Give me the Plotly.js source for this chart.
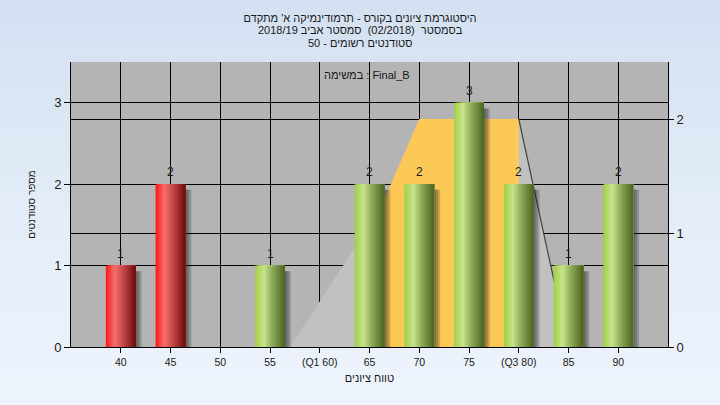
<!DOCTYPE html>
<html><head><meta charset="utf-8">
<script src="https://cdn.plot.ly/plotly-3.0.1.min.js"></script>
<style>
html,body{margin:0;padding:0;width:720px;height:405px;overflow:hidden;
background:linear-gradient(to bottom,#d3e0f1 0%,#e3ecf8 50%,#eef4fc 100%);}
#chart{width:720px;height:405px;}
</style>
</head><body><div id="chart"></div>
<script>
// ---- data ----
const scores = [40, 45, 50, 55, 60, 65, 70, 75, 80, 85, 90];
const tickLabels = ['40', '45', '50', '55', '(Q1 60)', '65', '70', '75', '(Q3 80)', '85', '90'];
const counts = [1, 2, 0, 1, 0, 2, 2, 3, 2, 1, 2];
const passMark = 55;
const leftTicks = [0, 1, 2, 3];
const rightTicks = [0, 1, 2];
// box-plot style overlay (right axis)
const rangeX = [57, 72, 80, 85];
const rangeY = [0, 2, 2, 0];
const iqrX = [65, 65, 70, 80, 80];
const iqrY = [0, 1, 2, 2, 0];
const upperX = [80, 85];
const upperY = [2, 0];
const titleLines = [
  "היסטוגרמת ציונים בקורס - תרמודינמיקה א' מתקדם",
  "בסמסטר  (02/2018)  סמסטר אביב 2018/19",
  "סטודנטים רשומים - 50"
];
const seriesLabel = 'במשימה : Final_B';
const xTitle = 'טווח ציונים';
const yTitle = 'מספר סטודנטים';

// ---- style helpers ----
function hex2rgb(h){return [parseInt(h.slice(1,3),16),parseInt(h.slice(3,5),16),parseInt(h.slice(5,7),16)];}
function grad(stops, t){
  for(let i=0;i<stops.length-1;i++){
    const [a,ca]=stops[i],[b,cb]=stops[i+1];
    if(t>=a && t<=b){
      const f=(t-a)/(b-a), A=hex2rgb(ca), B=hex2rgb(cb);
      return 'rgb('+A.map((v,k)=>Math.round(v+(B[k]-v)*f)).join(',')+')';
    }
  }
  return stops[stops.length-1][1];
}
const redStops = [[0,'#ff1616'],[0.3,'#f47070'],[0.6,'#c24444'],[1,'#6c0b0b']];
const greenStops = [[0,'#a0cf45'],[0.3,'#c9e38e'],[0.6,'#8aa756'],[1,'#4a6322']];
const BW = 3, N = 18;
const TXT = '#1a1a1a';

const traces = [];
// overlay polygons on right axis
traces.push({x: rangeX, y: rangeY, xaxis:'x', yaxis:'y2', type:'scatter', mode:'lines', fill:'toself',
  fillcolor:'#c1c1c1', line:{width:0}, hoverinfo:'skip'});
traces.push({x: iqrX, y: iqrY, xaxis:'x', yaxis:'y2', type:'scatter', mode:'lines', fill:'toself',
  fillcolor:'#fdc956', line:{width:0}, hoverinfo:'skip'});
traces.push({x: upperX, y: upperY, xaxis:'x', yaxis:'y2', type:'scatter', mode:'lines',
  line:{width:1.2, color:'#444'}, hoverinfo:'skip'});

// shadows
[0.2,0.4,0.6].forEach(ext=>{
  traces.push({type:'bar', x: scores, y: counts, base: -0.07, xaxis:'x', yaxis:'y',
    width: BW, offset: -BW/2 + ext, marker:{color:'rgba(30,30,30,0.22)', line:{width:0}}, hoverinfo:'skip'});
});
// gradient bars (cylinder look)
for(let i=0;i<N;i++){
  const t=(i+0.5)/N;
  traces.push({type:'bar', x: scores, y: counts, xaxis:'x', yaxis:'y',
    width: BW*(1-i/N), offset: -BW/2 + BW*i/N,
    marker:{color: scores.map(s=> s < passMark ? grad(redStops,t) : grad(greenStops,t)), line:{width:0}},
    hoverinfo:'skip'});
}
// value labels (annotations placed through the axis scales)
const valueLabels = [];
scores.forEach((s,i)=>{
  if(counts[i]>0) valueLabels.push({x:s, y:counts[i], xref:'x', yref:'y', text:String(counts[i]),
    showarrow:false, yshift:12, font:{size:12, color:TXT}, xanchor:'center', yanchor:'middle'});
});

const axisCommon = {showgrid:true, gridcolor:'#000', gridwidth:1, showline:true, linecolor:'#000', linewidth:1,
  zeroline:false, ticks:'outside', tickcolor:'#000', fixedrange:true};

const layout = {
  width:720, height:405,
  margin:{l:71, r:52, t:62, b:58, pad:0},
  paper_bgcolor:'rgba(0,0,0,0)', plot_bgcolor:'#b4b4b4',
  barmode:'overlay', showlegend:false,
  font:{family:'Liberation Sans, Arial, sans-serif', size:11, color:TXT},
  title:{text: titleLines[0], font:{size:11, color:TXT},
    x:0.5, xanchor:'center', xref:'container', y:1-18/405, yanchor:'middle', yref:'container'},
  xaxis: Object.assign({}, axisCommon, {range:[35,95], tickvals:scores, ticktext:tickLabels, ticklen:5,
    tickfont:{size:10.5, color:TXT}, title:{text:xTitle, font:{size:11}, standoff:7}}),
  yaxis: Object.assign({}, axisCommon, {range:[0,3.5], tickvals:leftTicks, ticklen:6, side:'left', overlaying:'y2',
    tickfont:{size:13, color:TXT}, title:{text:yTitle, font:{size:10}, standoff:16}}),
  yaxis2: Object.assign({}, axisCommon, {range:[0,2.5], tickvals:rightTicks, ticklen:5, side:'right', anchor:'x',
    tickfont:{size:13, color:TXT}}),
  annotations: [
    {text: titleLines[1], xref:'paper', yref:'paper', x:(360-71)/597, y:(347-30)/285, showarrow:false,
      font:{size:11, color:TXT}, xanchor:'center', yanchor:'middle'},
    {text: titleLines[2], xref:'paper', yref:'paper', x:(360-71)/597, y:(347-43)/285, showarrow:false,
      font:{size:11, color:TXT}, xanchor:'center', yanchor:'middle'},
    {text: seriesLabel, xref:'paper', yref:'paper', x:0.496, y:0.954, showarrow:false,
      font:{size:11, color:TXT}, xanchor:'center', yanchor:'middle'}
  ].concat(valueLabels)
};

Plotly.newPlot('chart', traces, layout, {displayModeBar:false, staticPlot:true});
</script>
</body></html>
